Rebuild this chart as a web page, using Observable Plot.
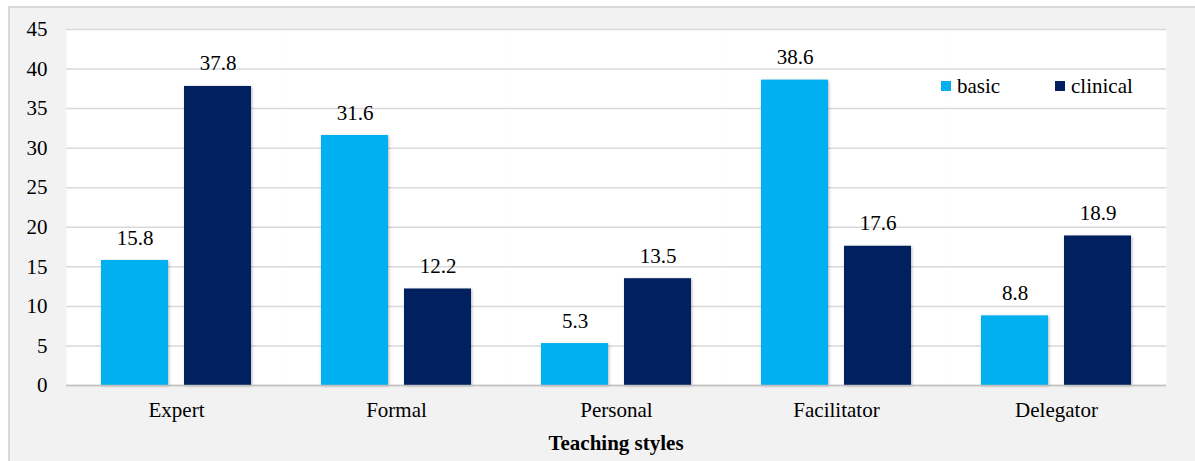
<!DOCTYPE html>
<html>
<head>
<meta charset="utf-8">
<script src="https://cdn.jsdelivr.net/npm/d3@7"></script>
<script src="https://cdn.jsdelivr.net/npm/@observablehq/plot@0.6"></script>
<style>
  html, body { margin: 0; padding: 0; background: #ffffff; }
  #wrap { position: relative; width: 1195px; height: 461px; overflow: hidden; font-family: "Liberation Serif", "Times New Roman", Times, serif; }
  #bg { position: absolute; left: 8px; top: 6px; width: 1220px; height: 480px; background: #F2F2F2; border-left: 2px solid #D9D9D9; border-top: 2px solid #D9D9D9; }
  #chart { position: absolute; left: 0; top: 0; }
  #chart svg { background: transparent !important; overflow: visible; }
  #chart g[aria-label="bar"] rect { filter: drop-shadow(1.5px 1.5px 1.5px rgba(0,0,0,0.28)); }
  .leg { position: absolute; font-family: "Liberation Serif", "Times New Roman", Times, serif; font-size: 21px; color: #000; line-height: 1; }
  .sw { position: absolute; width: 10px; height: 10px; }
  #xtitle { position: absolute; left: 0; width: 1232px; top: 431px; text-align: center; font-family: "Liberation Serif", "Times New Roman", Times, serif; font-weight: bold; font-size: 21px; color: #000; }
</style>
</head>
<body>
<div id="wrap">
  <div id="bg"></div>
  <div id="chart"></div>
  <div class="sw" style="left:941px; top:81px; background:#00B0F0;"></div>
  <div class="leg" style="left:957px; top:76px;">basic</div>
  <div class="sw" style="left:1055px; top:81px; background:#002060;"></div>
  <div class="leg" style="left:1071px; top:76px;">clinical</div>
  <div id="xtitle">Teaching styles</div>
</div>
<script>
const categories = ["Expert", "Formal", "Personal", "Facilitator", "Delegator"];
const series = ["basic", "clinical"];
const basic = [15.8, 31.6, 5.3, 38.6, 8.8];
const clinical = [37.8, 12.2, 13.5, 17.6, 18.9];
const yTicks = [0, 5, 10, 15, 20, 25, 30, 35, 40, 45];
const colors = ["#00B0F0", "#002060"];
const serif = "Liberation Serif, Times New Roman, Times, serif";

const data = [];
categories.forEach((c, i) => {
  data.push({style: c, group: "basic", value: basic[i]});
  data.push({style: c, group: "clinical", value: clinical[i]});
});

const chart = Plot.plot({
  width: 1195,
  height: 461,
  marginLeft: 66,
  marginRight: 29,
  marginTop: 29,
  marginBottom: 76,
  style: {fontFamily: serif, fontSize: "21px", color: "#000", background: "transparent"},
  fx: {domain: categories, padding: 0, label: null, axis: null},
  x: {domain: series, paddingInner: 0.19, paddingOuter: 0.405, axis: null},
  y: {domain: [0, 45], ticks: yTicks, label: null, axis: null},
  color: {domain: series, range: colors},
  marks: [
    Plot.frame({fill: "white", stroke: null}),
    Plot.gridY(yTicks, {stroke: "#D9D9D9", strokeOpacity: 1, strokeWidth: 1.5}),
    Plot.barY(data, {fx: "style", x: "group", y: "value", fill: "group"}),
    Plot.ruleY([0], {stroke: "#BFBFBF", strokeWidth: 1.5}),
    Plot.text(data, {fx: "style", x: "group", y: "value", text: d => d.value.toFixed(1), lineAnchor: "bottom", dy: -16, fill: "#000", fontSize: 21, fontFamily: serif}),
    Plot.axisY(yTicks, {tickSize: 0, tickPadding: 19, label: null, fontSize: 21, fontFamily: serif, fill: "#000"}),
    Plot.axisFx({anchor: "bottom", tickSize: 0, tickPadding: 17, label: null, fontSize: 21, fontFamily: serif, fill: "#000"})
  ]
});
document.getElementById("chart").appendChild(chart);
</script>
</body>
</html>
